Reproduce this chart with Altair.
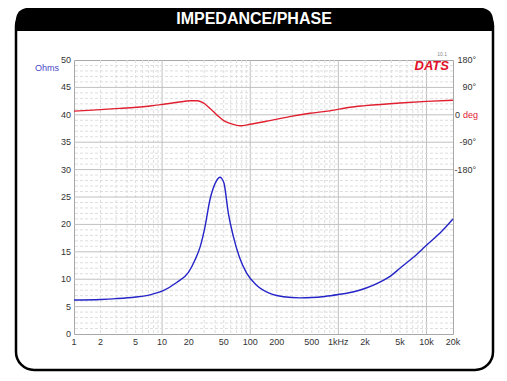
import altair as alt
import pandas as pd

# ---- data ----
imp_freq = [1, 2, 3, 5, 7.3, 10.3, 14.6, 19.8, 23.6, 27.0, 30.7, 34.9, 38.0, 41.5, 45.3, 47.4,
            50.4, 56.5, 64.3, 75.1, 91, 118, 167, 238, 366, 500, 700, 1000, 1500, 2000, 3000,
            4000, 5000, 7000, 10000, 15000, 20000]
imp_ohm = [6.2, 6.3, 6.45, 6.75, 7.15, 7.9, 9.4, 11.2, 13.5, 15.9, 19.6, 24.5, 26.6, 28.0, 28.6, 28.4,
           27.5, 22.0, 17.8, 14.1, 11.1, 8.9, 7.4, 6.8, 6.6, 6.65, 6.85, 7.2, 7.7, 8.3, 9.5,
           10.7, 12.0, 13.9, 16.2, 18.8, 21.0]

ph_freq = [1, 3.3, 7.3, 10, 15, 21, 25, 29, 35, 42, 50, 59, 77, 100, 167, 280, 475, 800,
           1360, 2000, 5000, 10000, 20000]
ph_deg = [12, 21, 29, 34, 41, 46, 46, 40, 21, -1, -19, -28, -36, -31, -19, -6, 5, 13,
          25, 30, 39, 44, 48]

x_tick_vals = [1, 2, 5, 10, 20, 50, 100, 200, 500, 1000, 2000, 5000, 10000, 20000]
x_tick_labels = ["1", "2", "5", "10", "20", "50", "100", "200", "500", "1kHz", "2k", "5k", "10k", "20k"]
y_tick_vals = [0, 5, 10, 15, 20, 25, 30, 35, 40, 45, 50]
ph_tick_vals = [-180, -90, 90, 180]
ph_tick_labels = ["-180°", "-90°", "90°", "180°"]

minor_x = [m * d for d in [1, 10, 100, 1000] for m in range(2, 10)]
major_x = [10, 100, 1000, 10000]
minor_y = [v for v in range(1, 50) if v % 5]
major_y = [v for v in range(5, 50, 5)]

FONT = "Liberation Sans"
W, H = 379, 274
LBL = "#333333"

xscale = alt.Scale(type="log", domain=[1, 20000], nice=False)
yscale = alt.Scale(domain=[0, 50], nice=False, zero=False)
pscale = alt.Scale(domain=[-720, 180], nice=False, zero=False)

one = alt.Data(values=[{"k": 1}])

frame = alt.Chart(one).mark_rect(fill="transparent", stroke="black", strokeWidth=2.5, cornerRadius=18).encode(
    x=alt.value(-58), x2=alt.value(419), y=alt.value(-52), y2=alt.value(310))
header = alt.Chart(one).mark_rect(fill="black", cornerRadiusTopLeft=18, cornerRadiusTopRight=18).encode(
    x=alt.value(-58), x2=alt.value(419), y=alt.value(-52), y2=alt.value(-29))
header_txt = alt.Chart(one).mark_text(text="IMPEDANCE/PHASE", color="white", font=FONT, fontSize=16,
                                      fontWeight="bold", align="center", baseline="middle").encode(
    x=alt.value(180), y=alt.value(-41))

vmin = alt.Chart(pd.DataFrame({"f": minor_x})).mark_rule(color="#dedede", strokeDash=[3, 2], strokeWidth=1).encode(
    x=alt.X("f:Q", scale=xscale, axis=None))
vmaj = alt.Chart(pd.DataFrame({"f": major_x})).mark_rule(color="#c0c0c0", strokeWidth=1).encode(
    x=alt.X("f:Q", scale=xscale, axis=None))
hmin = alt.Chart(pd.DataFrame({"o": minor_y})).mark_rule(color="#dedede", strokeDash=[3, 2], strokeWidth=1).encode(
    y=alt.Y("o:Q", scale=yscale, axis=None))
hmaj = alt.Chart(pd.DataFrame({"o": major_y})).mark_rule(color="#c0c0c0", strokeWidth=1).encode(
    y=alt.Y("o:Q", scale=yscale, axis=None))

xlab = alt.Chart(pd.DataFrame({"f": x_tick_vals, "t": x_tick_labels})).mark_text(
    font=FONT, fontSize=9, color=LBL, align="center", baseline="top").encode(
    x=alt.X("f:Q", scale=xscale, axis=None), y=alt.value(H + 4), text="t:N")
ylab = alt.Chart(pd.DataFrame({"o": y_tick_vals})).mark_text(
    font=FONT, fontSize=9, color=LBL, align="right", baseline="middle").encode(
    y=alt.Y("o:Q", scale=yscale, axis=None), x=alt.value(-3), text="o:Q")
ohms = alt.Chart(one).mark_text(text="Ohms", font=FONT, fontSize=9, color="#4848c8", align="center",
                                baseline="middle").encode(x=alt.value(-27), y=alt.value(8))

imp_line = alt.Chart(pd.DataFrame({"f": imp_freq, "o": imp_ohm})).mark_line(
    color="#2424c8", strokeWidth=1.4, interpolate="monotone").encode(
    x=alt.X("f:Q", scale=xscale, axis=None),
    y=alt.Y("o:Q", scale=yscale, axis=None))

dats = alt.Chart(one).mark_text(text="DATS", color="#e3102a", font=FONT, fontSize=13, fontWeight="bold",
                                fontStyle="italic", align="right", baseline="alphabetic").encode(
    x=alt.value(375), y=alt.value(10))
ver = alt.Chart(one).mark_text(text="10.1", color="#888888", font=FONT, fontSize=5, align="right",
                               baseline="alphabetic").encode(x=alt.value(373), y=alt.value(-4))

main = alt.layer(frame, header, header_txt, vmin, vmaj, hmin, hmaj, xlab, ylab, ohms, imp_line, dats, ver)

ph_line = alt.Chart(pd.DataFrame({"f": ph_freq, "p": ph_deg})).mark_line(
    color="#e02030", strokeWidth=1.4, interpolate="monotone").encode(
    x=alt.X("f:Q", scale=xscale, axis=None),
    y=alt.Y("p:Q", scale=pscale, axis=None))
plab = alt.Chart(pd.DataFrame({"p": ph_tick_vals, "t": ph_tick_labels})).mark_text(
    font=FONT, fontSize=9, color=LBL, align="right", baseline="middle").encode(
    y=alt.Y("p:Q", scale=pscale, axis=None), x=alt.value(W + 23), text="t:N")
zero_txt = alt.Chart(pd.DataFrame({"p": [0]})).mark_text(text="0", color=LBL, font=FONT, fontSize=9,
                                                        align="left", baseline="middle").encode(
    x=alt.value(W + 2), y=alt.Y("p:Q", scale=pscale, axis=None))
deg_txt = alt.Chart(pd.DataFrame({"p": [0]})).mark_text(text="deg", color="#e02030", font=FONT, fontSize=9,
                                                       align="left", baseline="middle").encode(
    x=alt.value(W + 10), y=alt.Y("p:Q", scale=pscale, axis=None))

phase = alt.layer(ph_line, plab, zero_txt, deg_txt)

chart = alt.layer(main, phase).resolve_scale(y="independent").properties(
    width=W, height=H,
    padding={"left": 66, "top": 52, "right": 46, "bottom": 38},
    autosize=alt.AutoSizeParams(type="none"),
    background="white",
).configure_view(stroke="#a8a8a8", strokeWidth=1)

chart.save("out.html", embed_options={"renderer": "svg", "actions": False})
